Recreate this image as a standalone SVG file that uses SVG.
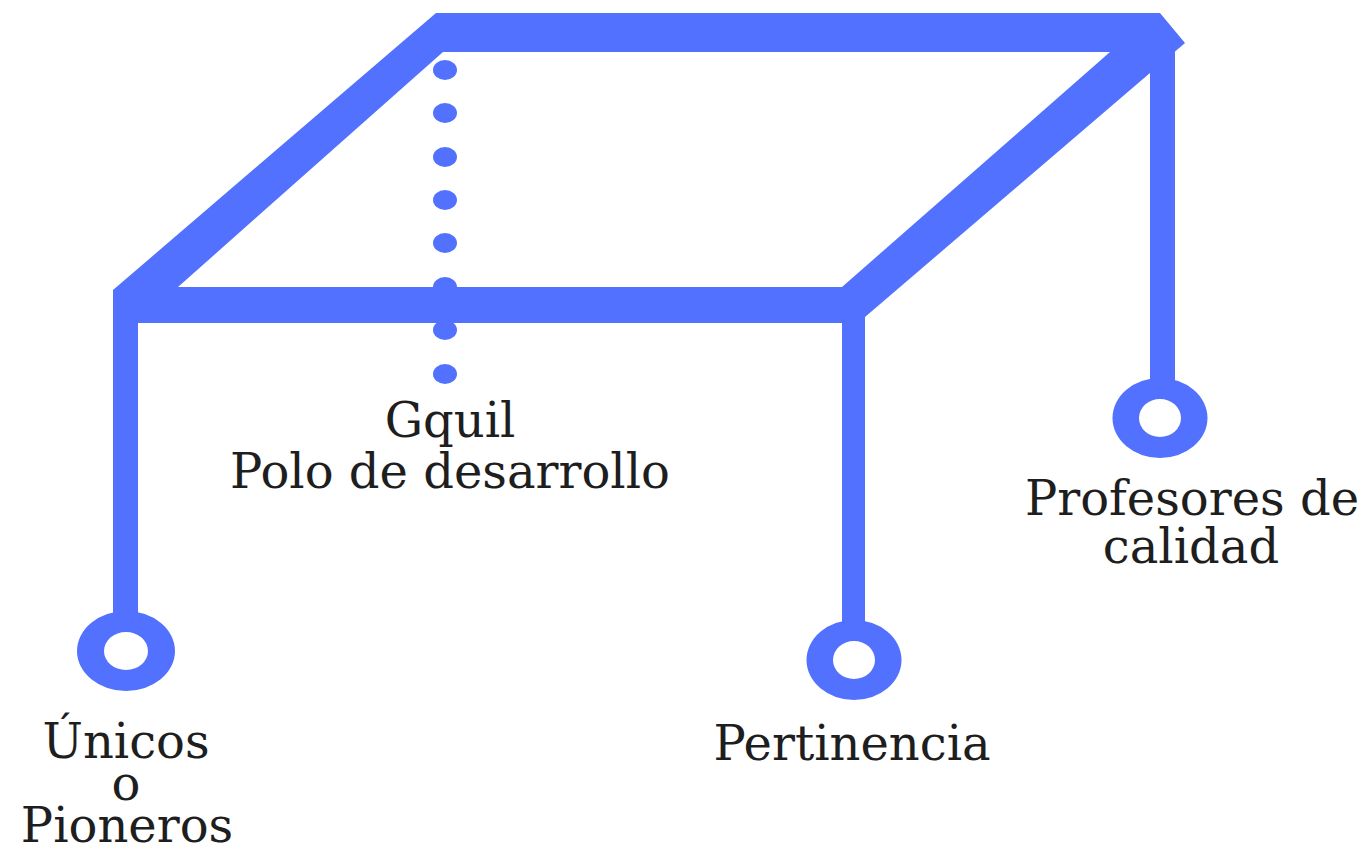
<svg xmlns="http://www.w3.org/2000/svg" width="1370" height="848" viewBox="0 0 1370 848">
<style>
.blue{fill:#5271ff}
.ring{fill:#5271ff;fill-rule:evenodd}
.lbl{font-family:"DejaVu Serif","Liberation Serif",serif;font-size:48px;fill:#1e1e1e;text-anchor:middle}
</style>
<rect width="1370" height="848" fill="#ffffff"/>
<g id="connectors">
  <path class="blue" fill-rule="evenodd" d="M113,290 L436,13 L1160,13 L1185,43 L858,323 L113,323 Z M178,287 L443,52 L1110,52 L842,287 Z"/>
  <rect class="blue" x="113" y="300" width="25" height="318"/>
  <rect class="blue" x="842" y="310" width="23" height="318"/>
  <rect class="blue" x="1150" y="40" width="25" height="345"/>
  <g class="blue">
    <ellipse cx="445" cy="70" rx="12" ry="10"/>
    <ellipse cx="445" cy="113" rx="12" ry="10"/>
    <ellipse cx="445" cy="157" rx="12" ry="10"/>
    <ellipse cx="445" cy="200" rx="12" ry="10"/>
    <ellipse cx="445" cy="243" rx="12" ry="10"/>
    <ellipse cx="445" cy="287" rx="12" ry="10"/>
    <ellipse cx="445" cy="330" rx="12" ry="10"/>
    <ellipse cx="445" cy="374" rx="12" ry="10"/>
  </g>
</g>
<g id="node-gquil">
  <text class="lbl" x="450" y="437">Gquil</text>
  <text class="lbl" x="450" y="488">Polo de desarrollo</text>
</g>
<g id="node-unicos">
  <path class="ring" d="M77,651 a49,40 0 1 0 98,0 a49,40 0 1 0 -98,0 Z M104,651 a22,19 0 1 0 44,0 a22,19 0 1 0 -44,0 Z"/>
  <text class="lbl" x="126" y="758">Únicos</text>
  <text class="lbl" x="126" y="800">o</text>
  <text class="lbl" x="127" y="842">Pioneros</text>
</g>
<g id="node-pertinencia">
  <path class="ring" d="M806.5,660 a47.5,40 0 1 0 95,0 a47.5,40 0 1 0 -95,0 Z M833,660 a21,19 0 1 0 42,0 a21,19 0 1 0 -42,0 Z"/>
  <text class="lbl" x="852" y="760">Pertinencia</text>
</g>
<g id="node-profesores">
  <path class="ring" d="M1112.5,418 a47.5,40 0 1 0 95,0 a47.5,40 0 1 0 -95,0 Z M1139,418 a21,19 0 1 0 42,0 a21,19 0 1 0 -42,0 Z"/>
  <text class="lbl" x="1192" y="515">Profesores de</text>
  <text class="lbl" x="1191" y="563">calidad</text>
</g>
</svg>
